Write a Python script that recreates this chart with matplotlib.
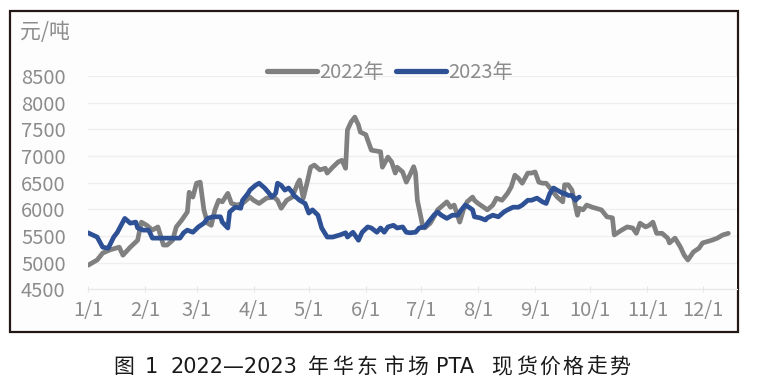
import numpy as np
import matplotlib.pyplot as plt
from matplotlib.patches import Rectangle

plt.rcParams['font.family'] = ['Noto Sans CJK SC', 'DejaVu Sans']

# 横轴：一年中的第几天（1/1 = 0）
days_2022 = [0, 5, 8, 12, 17, 19, 23, 27, 29, 32, 35, 38, 41, 43, 46, 48, 51, 54, 55, 57,
             59, 61, 63, 65, 67, 69, 71, 73, 76, 78, 81, 84, 88, 90, 93, 97, 101, 103, 105, 108,
             111, 114, 115, 117, 119, 121, 123, 126, 129, 130, 133, 136, 138, 140, 141, 143, 145, 147, 148, 151,
             152, 154, 159, 160, 163, 165, 167, 168, 171, 173, 175, 177, 178, 179, 182, 183, 186, 188, 190, 193,
             195, 197, 199, 202, 204, 206, 209, 210, 212, 215, 217, 220, 222, 225, 228, 230, 232, 234, 236, 239,
             241, 243, 245, 247, 249, 252, 255, 258, 259, 261, 263, 266, 267, 269, 271, 274, 279, 282, 285, 286,
             290, 293, 296, 298, 300, 303, 305, 307, 309, 312, 315, 316, 319, 322, 324, 326, 329, 332, 334, 336,
             339, 342, 345, 348]
price_2022 = [4950, 5050, 5180, 5240, 5290, 5140, 5290, 5420, 5760, 5700, 5610, 5670, 5330, 5330, 5420, 5670, 5800, 5950, 6320, 6230,
              6490, 6510, 5990, 5740, 5700, 5990, 6170, 6140, 6300, 6110, 6080, 6110, 6230, 6170, 6110, 6210, 6230, 6170, 6020, 6170,
              6230, 6490, 6550, 6210, 6490, 6790, 6830, 6740, 6770, 6680, 6790, 6890, 6920, 6770, 7490, 7640, 7730, 7580, 7450, 7400,
              7300, 7110, 7080, 6790, 6980, 6890, 6680, 6790, 6700, 6510, 6650, 6800, 6680, 6170, 5670, 5650, 5740, 5860, 5990, 6080,
              6140, 6040, 6080, 5760, 5990, 6140, 6230, 6170, 6110, 6040, 5990, 6080, 6210, 6170, 6300, 6420, 6640, 6580, 6490, 6680,
              6680, 6700, 6510, 6490, 6490, 6360, 6230, 6140, 6460, 6460, 6360, 5890, 6020, 5990, 6080, 6040, 5990, 5860, 5840, 5520,
              5610, 5670, 5650, 5550, 5740, 5670, 5700, 5760, 5550, 5550, 5460, 5370, 5460, 5290, 5140, 5050, 5200, 5270, 5370, 5390,
              5420, 5460, 5520, 5550]

days_2023 = [0, 5, 8, 11, 14, 16, 20, 23, 26, 27, 30, 33, 35, 39, 43, 46, 50, 52, 54, 57,
             60, 63, 65, 68, 72, 73, 76, 77, 80, 83, 84, 87, 88, 91, 93, 96, 98, 100, 102, 103,
             105, 107, 109, 111, 112, 115, 118, 120, 122, 125, 127, 130, 133, 137, 140, 141, 144, 147, 149, 152,
             154, 157, 159, 161, 163, 166, 168, 171, 173, 175, 178, 180, 183, 185, 188, 190, 192, 195, 198, 201,
             202, 205, 207, 209, 210, 213, 216, 217, 220, 223, 226, 228, 231, 234, 236, 239, 241, 244, 247, 249,
             251, 253, 255, 258, 259, 261, 263, 265, 266, 267]
price_2023 = [5560, 5480, 5290, 5270, 5480, 5570, 5830, 5740, 5760, 5650, 5610, 5610, 5460, 5460, 5460, 5460, 5460, 5560, 5610, 5570,
              5670, 5740, 5830, 5860, 5860, 5760, 5650, 5950, 6040, 6020, 6170, 6300, 6360, 6450, 6490, 6400, 6320, 6230, 6300, 6490,
              6450, 6360, 6400, 6320, 6260, 6170, 6110, 5930, 5990, 5890, 5650, 5480, 5480, 5520, 5560, 5480, 5570, 5420, 5570, 5670,
              5650, 5570, 5650, 5570, 5670, 5700, 5650, 5670, 5570, 5560, 5570, 5650, 5670, 5760, 5890, 5950, 5890, 5830, 5890, 5890,
              5950, 6080, 6040, 5990, 5860, 5840, 5800, 5840, 5890, 5860, 5950, 5990, 6040, 6040, 6080, 6170, 6170, 6210, 6140, 6110,
              6300, 6400, 6360, 6300, 6300, 6260, 6260, 6170, 6210, 6230]

month_days = [0, 31, 59, 90, 120, 151, 181, 212, 243, 273, 304, 334]
month_labels = ['1/1', '2/1', '3/1', '4/1', '5/1', '6/1', '7/1', '8/1', '9/1', '10/1', '11/1', '12/1']
y_ticks = [4500, 5000, 5500, 6000, 6500, 7000, 7500, 8000, 8500]

gray = '#808080'
blue = '#2E5196'
label_color = '#8C8C8C'

W, H = 757, 392
fig = plt.figure(figsize=(W / 100, H / 100), dpi=100)
ax = fig.add_axes([0.1162, 0.262, 0.8574, 0.544])
ax.set_facecolor('#FDFDFD')
fig.patches.append(Rectangle((0.0132, 0.153), 0.9617, 0.819, transform=fig.transFigure,
                             facecolor='#FDFDFD', edgecolor='#231815', linewidth=1.6, zorder=-1))

ax.plot(days_2022, price_2022, color=gray, lw=3.4, solid_capstyle='round', solid_joinstyle='round', label='2022年')
ax.plot(days_2023, price_2023, color=blue, lw=3.4, solid_capstyle='round', solid_joinstyle='round', label='2023年')

ax.set_xlim(0, 352.7)
ax.set_ylim(4500, 8500)
ax.set_yticks(y_ticks)
ax.set_xticks(month_days)
ax.set_xticklabels(month_labels)
ax.grid(axis='y', color='#EFEFEF', lw=1.0)
ax.set_axisbelow(True)
for s in ['top', 'right', 'left']:
    ax.spines[s].set_visible(False)
ax.spines['bottom'].set_color('#E6E6E6')
ax.tick_params(axis='y', length=0, pad=16, labelsize=14.5, labelcolor=label_color)
ax.tick_params(axis='x', length=4, direction='inout', color='#E6E6E6', pad=6, labelsize=14.5, labelcolor=label_color)

leg = fig.legend(loc='center', bbox_to_anchor=(0.515, 0.814), ncol=2, frameon=False, fontsize=14.5,
                 handlelength=2.5, handletextpad=0.1, columnspacing=0.6)
for t in leg.get_texts():
    t.set_color(label_color)
for h in leg.legend_handles:
    h.set_linewidth(3.8)

fig.text(20 / W, 1 - 32 / H, '元/吨', fontsize=15, color=label_color, ha='left', va='center')

# 图注：逐段放置，模仿原图的字距
caption = [('图', 113), ('1', 145), ('2022—2023', 170), ('年', 308), ('华', 332), ('东', 356),
           ('市', 384), ('场', 407), ('PTA', 436), ('现', 491), ('货', 516), ('价', 539),
           ('格', 562), ('走', 586), ('势', 609)]
for txt, xp in caption:
    fam = ['DejaVu Sans', 'Noto Sans CJK SC'] if txt[0].isascii() else ['Noto Sans CJK SC']
    fig.text(xp / W, 1 - 367 / H, txt, fontsize=15, color='#1A1A1A', ha='left', va='center', family=fam)

fig.savefig('out.png', dpi=100)
